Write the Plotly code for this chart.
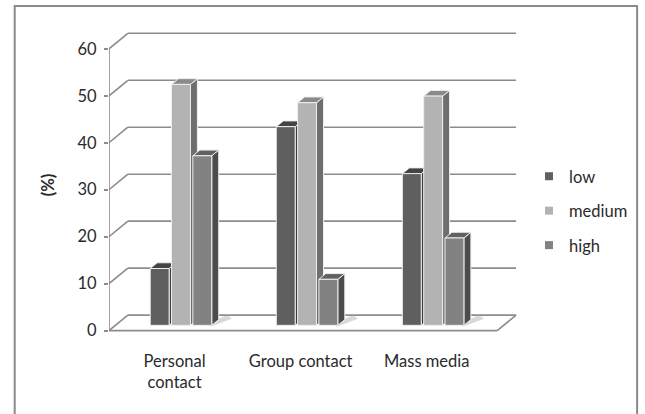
import plotly.graph_objects as go

# Survey data: share of respondents (%) by channel and level
categories = ["Personal contact", "Group contact", "Mass media"]
tick_text = ["Personal<br>contact", "Group contact", "Mass media"]
levels = ["low", "medium", "high"]
low = [12.1, 42.3, 32.3]
medium = [51.3, 47.4, 48.8]
high = [36.1, 9.8, 18.6]
y_ticks = [0, 10, 20, 30, 40, 50, 60]

series = [low, medium, high]
front_col = ["#5f5f5f", "#b3b3b3", "#828282"]
top_col = ["#444444", "#8a8a8a", "#616161"]
side_col = ["#3c3c3c", "#6e6e6e", "#4c4c4c"]
edge_col = "#eeeeee"
grid_col = "#8c8c8c"

# pseudo-3D projection settings (in axis units)
X0, X1 = -0.52, 2.716          # x-axis range
Y0, Y1 = -2, 64                # y-axis range
FLOOR_END = 2.559              # right end of the front floor edge
DDX, DDY = 0.1496, 3.30        # full depth vector of the box
F0, F1 = 0.34, 0.71            # bar front / back depth fractions
BW = 0.15                      # bar width
PITCH = 0.169                  # distance between neighbouring bars

fig = go.Figure()


def poly(xs, ys, fill, line_col=edge_col, width=1):
    fig.add_trace(go.Scatter(
        x=xs + [xs[0]], y=ys + [ys[0]], mode="lines", fill="toself",
        fillcolor=fill, line=dict(color=line_col, width=width),
        hoverinfo="skip", showlegend=False, cliponaxis=False))


def seg(xs, ys, col=grid_col, width=1.6):
    fig.add_trace(go.Scatter(
        x=xs, y=ys, mode="lines", line=dict(color=col, width=width),
        hoverinfo="skip", showlegend=False, cliponaxis=False))


# back wall gridlines and left wall diagonals
for v in y_ticks:
    seg([X0 + DDX, FLOOR_END + DDX], [v + DDY, v + DDY])
    seg([X0, X0 + DDX], [v, v + DDY])

# floor edges
seg([X0, FLOOR_END], [0, 0])
seg([FLOOR_END, FLOOR_END + DDX], [0, DDY])

# front value axis
seg([X0, X0], [0, 60])

# soft floor shadows to the right of each group
for ci in range(len(categories)):
    xr = ci + PITCH + BW / 2 + F0 * DDX
    poly([xr - 0.01, xr + 0.16, xr + 0.12, xr - 0.03],
         [F0 * DDY - 0.3, F1 * DDY + 0.2, F1 * DDY + 0.9, F0 * DDY + 0.4],
         "rgba(190,190,190,0.6)", line_col="rgba(0,0,0,0)", width=0)

# bars, painted left to right so later bars hide earlier side faces
for ci in range(len(categories)):
    for si, vals in enumerate(series):
        v = vals[ci]
        xc = ci + (si - 1) * PITCH + F0 * DDX
        xl, xr = xc - BW / 2, xc + BW / 2
        b = F0 * DDY
        t = b + v
        ox, oy = (F1 - F0) * DDX, (F1 - F0) * DDY
        # side face
        poly([xr, xr + ox, xr + ox, xr], [b, b + oy, t + oy, t], side_col[si])
        # top face
        poly([xl, xl + ox, xr + ox, xr], [t, t + oy, t + oy, t], top_col[si])
        # front face
        poly([xl, xr, xr, xl], [b, b, t, t], front_col[si])

# legend entries
for si, name in enumerate(levels):
    fig.add_trace(go.Scatter(
        x=[None], y=[None], mode="markers", name=name,
        legendgroup=name,
        marker=dict(symbol="square", size=8, color=front_col[si]),
        hoverinfo="skip"))

font_family = "Lato, 'Open Sans', sans-serif"
fig.update_layout(
    width=645, height=414,
    margin=dict(l=109, r=125, t=30, b=74),
    paper_bgcolor="white", plot_bgcolor="white",
    font=dict(family=font_family, size=16.5, color="#2a2a2a"),
    showlegend=True,
    legend=dict(
        xref="container", yref="container",
        x=529 / 645, xanchor="left",
        y=1 - 159 / 414, yanchor="top",
        tracegroupgap=10, font=dict(size=16.5),
        itemwidth=30,
        bgcolor="rgba(0,0,0,0)"),
    xaxis=dict(
        range=[X0, X1], tickmode="array", tickvals=[0, 1, 2],
        ticktext=tick_text, showgrid=False, zeroline=False,
        showline=False, ticks="", ticklabelstandoff=9, fixedrange=True),
    yaxis=dict(
        range=[Y0, Y1], tickmode="array", tickvals=y_ticks,
        showgrid=False, zeroline=False, showline=False,
        ticks="outside", ticklen=4, tickwidth=1.5, tickcolor=grid_col,
        ticklabelstandoff=4,
        title=dict(text="<b>(%)</b>", standoff=18,
                   font=dict(size=16.5)),
        fixedrange=True),
    shapes=[dict(
        type="rect", xref="paper", yref="paper",
        x0=(14 - 109) / 411, x1=(641 - 109) / 411,
        y0=(340 - 430) / 310, y1=(340 - 6) / 310,
        line=dict(color="#8a8a8a", width=2), layer="below")],
)

fig.write_html("out.html")
